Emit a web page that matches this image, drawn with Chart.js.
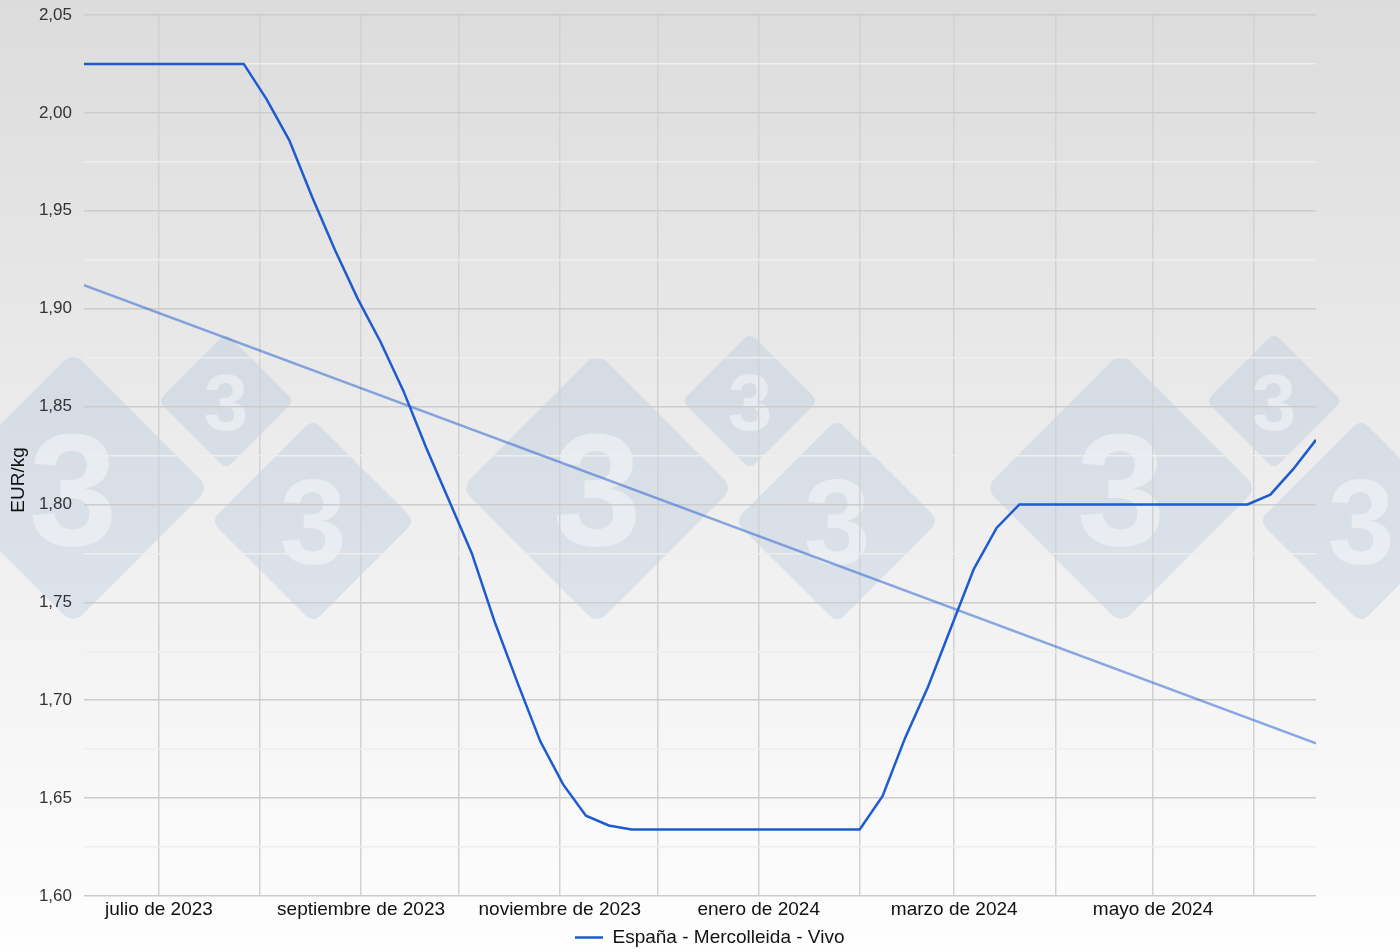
<!DOCTYPE html>
<html>
<head>
<meta charset="utf-8">
<script src="https://cdn.jsdelivr.net/npm/chart.js@4.4.0/dist/chart.umd.min.js"></script>
<style>
html,body{margin:0;padding:0;background:#ffffff;overflow:hidden;}
canvas{display:block;}
</style>
</head>
<body>
<canvas id="c" width="1400" height="952"></canvas>
<script>
// ---- DATA ----
const weekDates = [
  '2023-06-08','2023-06-15','2023-06-22','2023-06-29','2023-07-06','2023-07-13','2023-07-20','2023-07-27',
  '2023-08-03','2023-08-10','2023-08-17','2023-08-24','2023-08-31','2023-09-07','2023-09-14','2023-09-21',
  '2023-09-28','2023-10-05','2023-10-12','2023-10-19','2023-10-26','2023-11-02','2023-11-09','2023-11-16',
  '2023-11-23','2023-11-30','2023-12-07','2023-12-14','2023-12-21','2023-12-28','2024-01-04','2024-01-11',
  '2024-01-18','2024-01-25','2024-02-01','2024-02-08','2024-02-15','2024-02-22','2024-02-29','2024-03-07',
  '2024-03-14','2024-03-21','2024-03-28','2024-04-04','2024-04-11','2024-04-18','2024-04-25','2024-05-02',
  '2024-05-09','2024-05-16','2024-05-23','2024-05-30','2024-06-06','2024-06-13','2024-06-20'
];
const prices = [
  2.025,2.025,2.025,2.025,2.025,2.025,2.025,2.025,
  2.007,1.986,1.957,1.930,1.905,1.883,1.858,1.829,
  1.802,1.775,1.740,1.709,1.679,1.657,1.641,1.636,
  1.634,1.634,1.634,1.634,1.634,1.634,1.634,1.634,
  1.634,1.634,1.634,1.651,1.681,1.707,1.737,1.767,
  1.788,1.800,1.800,1.800,1.800,1.800,1.800,1.800,
  1.800,1.800,1.800,1.800,1.805,1.818,1.833
];
const trendDates = ['2023-06-08','2024-06-20'];
const trendValues = [1.912, 1.678];
const monthTicks = ['2023-07-01','2023-08-01','2023-09-01','2023-10-01','2023-11-01','2023-12-01',
                    '2024-01-01','2024-02-01','2024-03-01','2024-04-01','2024-05-01','2024-06-01'];
const monthLabels = ['julio de 2023','','septiembre de 2023','','noviembre de 2023','',
                     'enero de 2024','','marzo de 2024','','mayo de 2024',''];
const seriesLabel = 'España - Mercolleida - Vivo';
const yAxisTitle = 'EUR/kg';
const yMin = 1.60, yMax = 2.05, yStep = 0.025;

// ---- HELPERS ----
function ts(s){ const p = s.split('-').map(Number); return Date.UTC(p[0], p[1]-1, p[2]); }
function fmt(v){ return v.toFixed(2).replace('.', ','); }

Chart.defaults.font.family = "'Liberation Sans', Arial, Helvetica, sans-serif";

function roundDiamond(ctx, cx, cy, half, r){
  const s = half * Math.SQRT2;
  const x = -s/2, y = -s/2;
  ctx.save();
  ctx.translate(cx, cy);
  ctx.rotate(Math.PI/4);
  ctx.beginPath();
  ctx.moveTo(x + r, y);
  ctx.lineTo(x + s - r, y);
  ctx.quadraticCurveTo(x + s, y, x + s, y + r);
  ctx.lineTo(x + s, y + s - r);
  ctx.quadraticCurveTo(x + s, y + s, x + s - r, y + s);
  ctx.lineTo(x + r, y + s);
  ctx.quadraticCurveTo(x, y + s, x, y + s - r);
  ctx.lineTo(x, y + r);
  ctx.quadraticCurveTo(x, y, x + r, y);
  ctx.closePath();
  ctx.fill();
  ctx.restore();
}

const bgPlugin = {
  id: 'bg',
  beforeDraw(chart){
    const ctx = chart.ctx, w = chart.width, h = chart.height;
    ctx.save();
    const g = ctx.createLinearGradient(0, 0, 0, h);
    g.addColorStop(0, '#dcdcdc');
    g.addColorStop(1, '#fefefe');
    ctx.fillStyle = g;
    ctx.fillRect(0, 0, w, h);
    // watermark
    const marks = [];
    for (let k = 0; k < 3; k++){
      const off = 524 * k;
      marks.push([73 + off, 488, 136, 160]);
      marks.push([313 + off, 521, 102, 120]);
      marks.push([226 + off, 401, 68, 80]);
    }
    marks.forEach(m => {
      ctx.fillStyle = 'rgba(160,185,215,0.27)';
      roundDiamond(ctx, m[0], m[1], m[2], m[2] * 0.11);
      ctx.fillStyle = 'rgba(250,250,250,0.5)';
      ctx.font = "bold " + m[3] + "px 'Liberation Sans', Arial, sans-serif";
      ctx.textAlign = 'center';
      ctx.textBaseline = 'alphabetic';
      ctx.fillText('3', m[0], m[1] + m[3] * 0.358);
    });
    ctx.restore();
  }
};

const titlePlugin = {
  id: 'ytitle',
  afterDraw(chart){
    const ctx = chart.ctx;
    ctx.save();
    ctx.translate(19, 480);
    ctx.rotate(-Math.PI/2);
    ctx.font = "19px 'Liberation Sans', Arial, sans-serif";
    ctx.fillStyle = '#111111';
    ctx.textAlign = 'center';
    ctx.textBaseline = 'middle';
    ctx.fillText(yAxisTitle, 0, 0);
    ctx.restore();
  }
};

const legendPosPlugin = {
  id: 'legendPos',
  afterLayout(chart){
    const lg = chart.legend;
    if (!lg) return;
    const w = lg.right - lg.left;
    lg.left = 571;
    lg.right = 571 + w;
    lg.top += 5;
    lg.bottom += 5;
  }
};

new Chart(document.getElementById('c'), {
  type: 'line',
  data: {
    datasets: [
      {
        label: seriesLabel,
        data: weekDates.map((d, i) => ({x: ts(d), y: prices[i]})),
        borderColor: '#1d5bd0',
        backgroundColor: '#1d5bd0',
        borderWidth: 2.5,
        pointRadius: 0,
        tension: 0,
        fill: false,
        order: 1
      },
      {
        label: 'Tendencia',
        data: trendDates.map((d, i) => ({x: ts(d), y: trendValues[i]})),
        borderColor: 'rgba(29,91,208,0.5)',
        backgroundColor: 'rgba(29,91,208,0.5)',
        borderWidth: 2.5,
        pointRadius: 0,
        tension: 0,
        fill: false,
        order: 2
      }
    ]
  },
  options: {
    responsive: false,
    animation: false,
    devicePixelRatio: 1,
    layout: { padding: { top: 15, right: 84, left: 0, bottom: 0 } },
    plugins: {
      legend: {
        position: 'bottom',
        align: 'start',
        labels: {
          filter: (it) => it.datasetIndex === 0,
          boxWidth: 28,
          boxHeight: 0,
          padding: 4,
          color: '#111111',
          font: { size: 19 }
        }
      },
      tooltip: { enabled: false },
      title: { display: false }
    },
    scales: {
      x: {
        type: 'linear',
        min: ts(weekDates[0]),
        max: ts(weekDates[weekDates.length - 1]),
        afterBuildTicks: (ax) => { ax.ticks = monthTicks.map(m => ({ value: ts(m) })); },
        afterFit: (ax) => { ax.height = 23; },
        ticks: {
          autoSkip: false,
          maxRotation: 0,
          minRotation: 0,
          padding: 2,
          color: '#111111',
          font: { size: 19 },
          callback: (v, i) => monthLabels[i]
        },
        grid: { color: '#d2d2d2', lineWidth: 1.5, drawTicks: false },
        border: { display: false }
      },
      y: {
        min: yMin,
        max: yMax,
        afterFit: (ax) => { ax.width = 84; ax.paddingTop = 0; ax.paddingBottom = 0; },
        ticks: {
          stepSize: yStep,
          padding: 12,
          color: '#333333',
          font: { size: 17 },
          callback: (v, i) => (i % 2 === 0 ? fmt(v) : '')
        },
        grid: {
          color: (c) => (c.index % 2 === 0 ? '#cccccc' : '#eeeeee'),
          lineWidth: 1.5,
          drawTicks: false
        },
        border: { display: false }
      }
    }
  },
  plugins: [bgPlugin, titlePlugin, legendPosPlugin]
});
</script>
</body>
</html>
